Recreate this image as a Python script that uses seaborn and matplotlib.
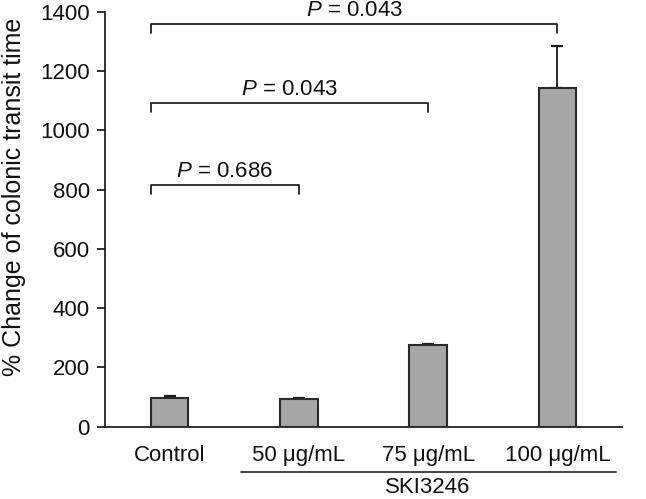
import matplotlib
matplotlib.use("Agg")
import matplotlib.pyplot as plt
import matplotlib.transforms as mtransforms
import seaborn as sns
import pandas as pd
import numpy as np

categories = ["Control", "50 μg/mL", "75 μg/mL", "100 μg/mL"]
values = [98, 94, 275, 1143]
errors = [6, 4, 5, 140]
yticks = [0, 200, 400, 600, 800, 1000, 1200, 1400]
comparisons = [(1, 815, "0.686"), (2, 1091, "0.043"), (3, 1358, "0.043")]
group_label = "SKI3246"
ylabel = "% Change of colonic transit time"

sns.set_style("white")
plt.rcParams["font.family"] = ["Liberation Sans", "DejaVu Sans"]
plt.rcParams["mathtext.fontset"] = "custom"
plt.rcParams["mathtext.rm"] = "Liberation Sans"
plt.rcParams["mathtext.it"] = "Liberation Sans:italic"
plt.rcParams["text.color"] = "#111111"
plt.rcParams["xtick.color"] = "#111111"
plt.rcParams["ytick.color"] = "#111111"
plt.rcParams["axes.labelcolor"] = "#111111"

FS = 16

df = pd.DataFrame({"group": categories, "value": values})

fig = plt.figure(figsize=(6.46, 4.99), dpi=100)
ax = fig.add_axes([105 / 646, 1 - 426.7 / 499, (622 - 105) / 646, 415 / 499])

bw = 0.29
sns.barplot(data=df, x="group", y="value", order=categories, color="#a6a6a6",
            edgecolor="#2a2a2a", linewidth=1.5, width=bw, errorbar=None,
            saturation=1, ax=ax, zorder=3)
ax.errorbar(np.arange(len(categories)), values,
            yerr=[np.zeros(len(errors)), errors], fmt="none",
            ecolor="#1a1a1a", elinewidth=1.3, capsize=4.5, capthick=1.6, zorder=2)

ax.set_xlim(-0.5, 3.5)
ax.set_ylim(0, 1400)
ax.set_yticks(yticks)
ax.set_yticklabels([str(t) for t in yticks], fontsize=FS)
ax.set_xticks(np.arange(-0.5, 4.0, 1.0))
ax.set_xticklabels([])
ax.set_xticks(np.arange(len(categories)), minor=True)
ax.set_xticklabels(categories, minor=True, fontsize=FS)
ax.tick_params(axis="x", which="major", direction="out", length=6, width=1.3, color="#222222")
ax.tick_params(axis="x", which="minor", length=0, pad=13)
ax.tick_params(axis="y", direction="out", length=6, width=1.3, color="#222222", pad=5, left=True)
ax.set_xlabel("")
ax.set_ylabel(ylabel, fontsize=18)
ax.yaxis.set_label_coords(-0.153, 0.553)

for s in ["top", "right"]:
    ax.spines[s].set_visible(False)
for s in ["left", "bottom"]:
    ax.spines[s].set_color("#222222")
    ax.spines[s].set_linewidth(1.3)

# significance brackets
left = 0 - bw / 2
drop = 30
for idx, h, p in comparisons:
    ax.plot([left, left, idx, idx], [h - drop, h, h, h - drop], color="#222222",
            lw=1.3, clip_on=False, zorder=4)
    ax.text((left + idx) / 2, h + 27, f"$P$ = {p}", ha="center", va="baseline",
            fontsize=FS, clip_on=False)

# group line for SKI3246
trans = mtransforms.blended_transform_factory(ax.transData, ax.transAxes)
ax.plot([0.55, 3.45], [-0.109, -0.109], transform=trans, color="#222222",
        lw=1.2, clip_on=False)
ax.text(2.0, -0.121, group_label, transform=trans, ha="center", va="top",
        fontsize=FS)

fig.savefig("out.png", dpi=100)
